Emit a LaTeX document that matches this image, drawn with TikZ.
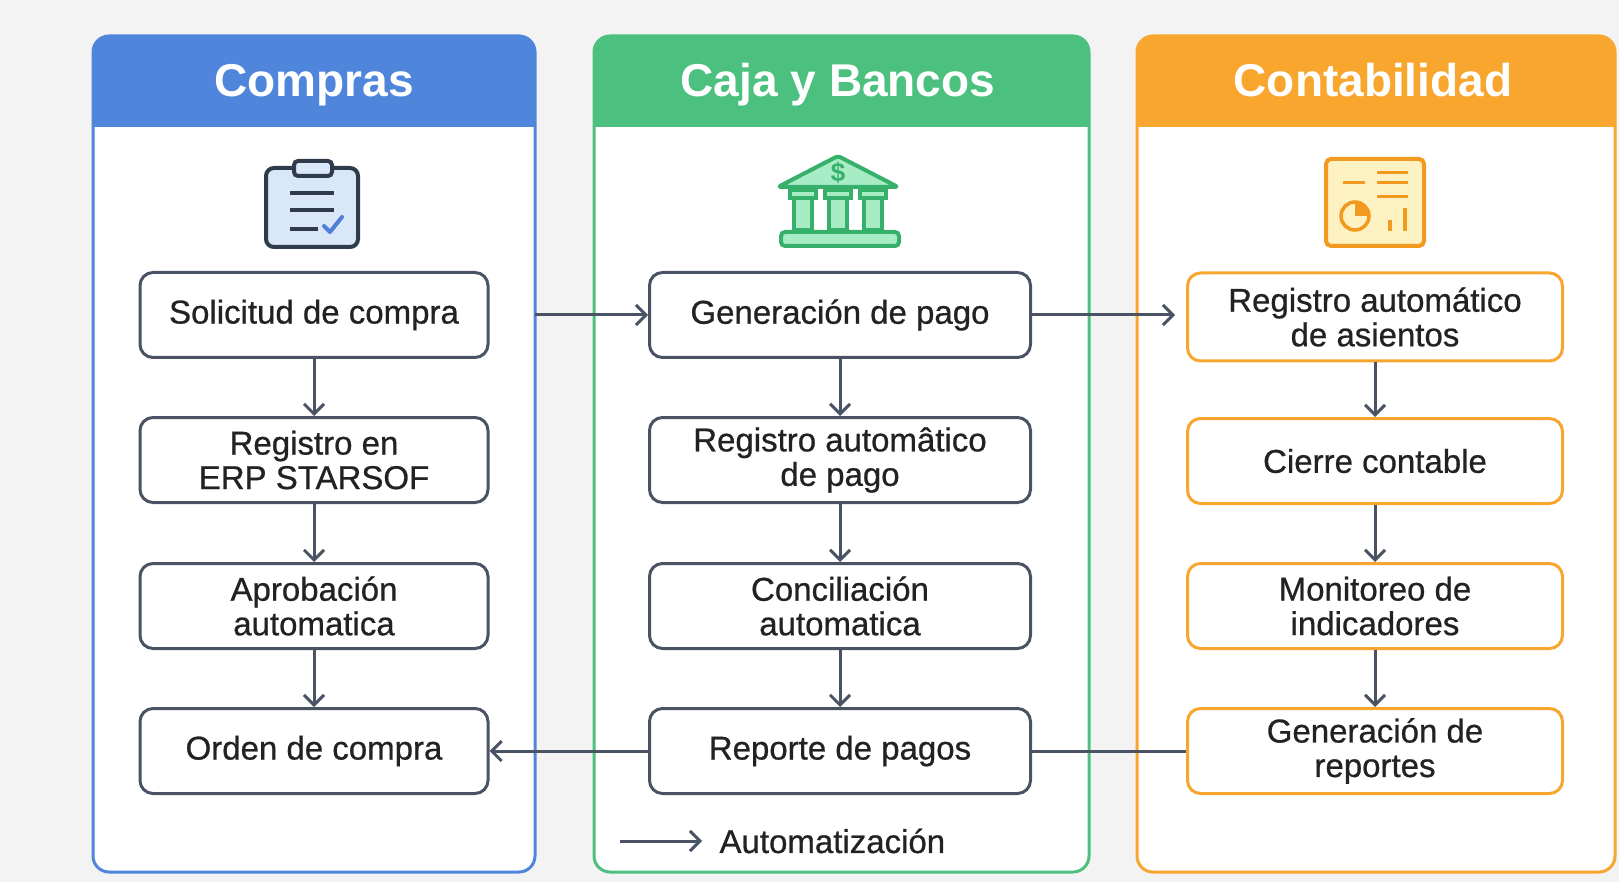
\documentclass[tikz,border=0pt]{standalone}
\usepackage{fontspec}
\setmainfont{Liberation Sans}
\newfontfamily\medfont[FakeBold=0.7]{Liberation Sans}
\usetikzlibrary{arrows.meta}
\definecolor{bg}{HTML}{F3F3F3}
\definecolor{cblue}{HTML}{4F86DC}
\definecolor{cgreen}{HTML}{4CC17F}
\definecolor{corange}{HTML}{F8A62E}
\definecolor{slate}{HTML}{4A5363}
\definecolor{txt}{HTML}{222222}
\definecolor{clipfill}{HTML}{D8E8F8}
\definecolor{clipline}{HTML}{2F3B4A}
\definecolor{checkblue}{HTML}{4F7FD6}
\definecolor{bankfill}{HTML}{A8ECC6}
\definecolor{bankline}{HTML}{36B06A}
\definecolor{repfill}{HTML}{FFF2C2}
\definecolor{repline}{HTML}{F29A1F}
\tikzset{
  stepbox/.style={draw=slate, line width=3pt, rounded corners=13pt, fill=white,
    minimum height=85pt, align=center, inner sep=0pt,
    font=\medfont\fontsize{33}{34.5}\selectfont, text=txt},
  obox/.style={stepbox, draw=corange},
  conn/.style={draw=slate, line width=3pt,
    -{Straight Barb[length=10pt,width=20pt,line width=3pt]}},
  plain/.style={draw=slate, line width=3pt},
  headtxt/.style={text=white, anchor=base, font=\fontsize{46}{50}\selectfont\bfseries},
}
\begin{document}
\begin{tikzpicture}[x=1pt,y=-1pt]
\useasboundingbox (0,0) rectangle (1619,882);
\fill[bg] (0,0) rectangle (1619,882);

% panels
\foreach \xa/\xb/\col in {93/535/cblue, 594/1089/cgreen, 1137/1615/corange}{
  \fill[white, rounded corners=16pt] (\xa,36) rectangle (\xb,872);
  \begin{scope}
    \clip[rounded corners=16pt] (\xa,36) rectangle (\xb,872);
    \fill[\col] (\xa,36) rectangle (\xb,127);
  \end{scope}
  \draw[\col, line width=3pt, rounded corners=16pt] (\xa,36) rectangle (\xb,872);
}
\node[headtxt] (h1) at (314,97) {Compras};
\node[headtxt] (h2) at (838,97) {Caja y Bancos};
\node[headtxt] (h3) at (1373,97) {Contabilidad};

% clipboard icon
\filldraw[fill=clipfill, draw=clipline, line width=4pt, rounded corners=8pt] (266,168) rectangle (358,247);
\filldraw[fill=clipfill, draw=clipline, line width=4pt, rounded corners=4pt] (294,161) rectangle (332,176);
\draw[clipline, line width=3.5pt] (290,193) -- (334,193);
\draw[clipline, line width=3.5pt] (290,210) -- (334,210);
\draw[clipline, line width=3.5pt] (290,229) -- (318,229);
\draw[checkblue, line width=4pt, line cap=round, line join=round] (324,226) -- (330,232) -- (342,217);

% bank icon
\filldraw[fill=bankfill, draw=bankline, line width=4pt, line join=round, rounded corners=3pt] (778,187) -- (838,156) -- (898,187) -- cycle;
\node[text=bankline, font=\fontsize{26}{26}\selectfont\bfseries] (dollar) at (838,173) {\$};
\foreach \cx in {803,838,873}{
  \filldraw[fill=bankfill, draw=bankline, line width=3.5pt] (\cx-9,198) rectangle (\cx+9,230);
  \filldraw[fill=bankfill, draw=bankline, line width=3.5pt] (\cx-13,190) rectangle (\cx+13,198);
}
\filldraw[fill=bankfill, draw=bankline, line width=4pt, rounded corners=4pt] (781,232) rectangle (899,246);

% report icon
\filldraw[fill=repfill, draw=repline, line width=4pt, rounded corners=5pt] (1326,159) rectangle (1424,246);
\draw[repline, line width=3pt] (1377,173) -- (1408,173);
\draw[repline, line width=3pt] (1343,183) -- (1365,183);
\draw[repline, line width=3pt] (1377,183) -- (1408,183);
\draw[repline, line width=3pt] (1377,197) -- (1408,197);
\draw[repline, line width=3.5pt] (1355,216) circle (14);
\fill[repline] (1355,216) -- (1355,202) arc[start angle=-90, end angle=0, radius=14] -- cycle;
\draw[repline, line width=4pt] (1390,220) -- (1390,231);
\draw[repline, line width=4pt] (1405,208) -- (1405,231);

% Compras
\node[stepbox, minimum width=348pt] (c1) at (314,315) {Solicitud de compra};
\node[stepbox, minimum width=348pt] (c2) at (314,460) {Registro en\\ERP STARSOF};
\node[stepbox, minimum width=348pt] (c3) at (314,606) {Aprobación\\automatica};
\node[stepbox, minimum width=348pt] (c4) at (314,751) {Orden de compra};
% Caja y Bancos
\node[stepbox, minimum width=381pt] (g1) at (840,315) {Generación de pago};
\node[stepbox, minimum width=381pt] (g2) at (840,460) {Registro automâtico\\de pago};
\node[stepbox, minimum width=381pt] (g3) at (840,606) {Conciliación\\automatica};
\node[stepbox, minimum width=381pt] (g4) at (840,751) {Reporte de pagos};
% Contabilidad
\node[obox, minimum width=375pt, minimum height=88pt] (k1) at (1375,317) {Registro automático\\de asientos};
\node[obox, minimum width=375pt] (k2) at (1375,461) {Cierre contable};
\node[obox, minimum width=375pt] (k3) at (1375,606) {Monitoreo de\\indicadores};
\node[obox, minimum width=375pt] (k4) at (1375,751) {Generación de\\reportes};

% vertical connectors
\draw[conn] (c1) -- (c2);
\draw[conn] (c2) -- (c3);
\draw[conn] (c3) -- (c4);
\draw[conn] (g1) -- (g2);
\draw[conn] (g2) -- (g3);
\draw[conn] (g3) -- (g4);
\draw[conn] (k1) -- (k2);
\draw[conn] (k2) -- (k3);
\draw[conn] (k3) -- (k4);

% horizontal connectors
\coordinate (p1) at (535,315);
\coordinate (p2) at (1175,315);
\draw[conn] (p1) -- (g1.west);
\draw[conn] (g1.east) -- (p2);
\draw[conn] (g4.west) -- (c4.east);
\draw[plain] (g4.east) -- (k4.west);

% legend
\coordinate (l1) at (620,841);
\coordinate (l2) at (702,841);
\draw[conn] (l1) -- (l2);
\node[anchor=west, font=\medfont\fontsize{33}{33}\selectfont, text=txt] (leg) at (716,841) {Automatización};
\end{tikzpicture}
\end{document}
